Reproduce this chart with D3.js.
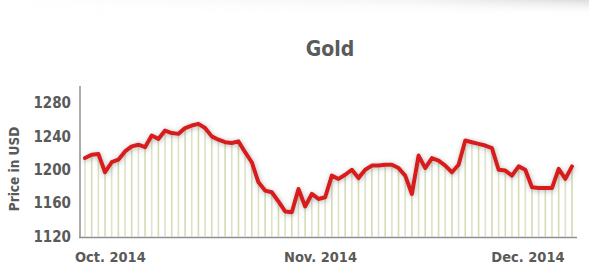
<!DOCTYPE html>
<html><head><meta charset="utf-8">
<script src="https://cdn.jsdelivr.net/npm/d3@7"></script>
<style>
html,body{margin:0;padding:0;background:#fff;}
svg{display:block;}
text{font-family:"DejaVu Sans Condensed","DejaVu Sans",sans-serif;font-weight:bold;fill:#5a5a5a;}
</style></head>
<body>
<script>
// Data
const title = "Gold";
const yLabel = "Price in USD";
const yTicks = [1120, 1160, 1200, 1240, 1280];
const monthLabels = ["Oct. 2014", "Nov. 2014", "Dec. 2014"];
const monthLabelIdx = [3.8, 35.3, 66.4];
const prices = [
  1214, 1218, 1219, 1197, 1209, 1212, 1222, 1228, 1230, 1227,
  1241, 1237, 1247, 1244, 1243, 1250, 1253, 1255, 1250, 1240,
  1236, 1233, 1232, 1234, 1221, 1209, 1185, 1175, 1173, 1162,
  1150, 1149, 1177, 1156, 1171, 1165, 1167, 1193, 1189, 1194,
  1200, 1190, 1200, 1205, 1205, 1206, 1206, 1202, 1193, 1171,
  1217, 1202, 1214, 1211, 1205, 1197, 1206, 1235, 1233, 1231,
  1229, 1226, 1200, 1199, 1193, 1204, 1200, 1179, 1178, 1178,
  1178, 1201, 1189, 1204
];

const W = 589, H = 272;
const svg = d3.select("body").append("svg").attr("width", W).attr("height", H);
const defs = svg.append("defs");

// subtle page shadow at top
const g1 = defs.append("linearGradient").attr("id","topShade").attr("x1",0).attr("y1",0).attr("x2",0).attr("y2",1);
g1.append("stop").attr("offset","0%").attr("stop-color","#d8d8d8").attr("stop-opacity",0.9);
g1.append("stop").attr("offset","100%").attr("stop-color","#ffffff").attr("stop-opacity",0);
const g2 = defs.append("linearGradient").attr("id","topMask").attr("x1",0).attr("y1",0).attr("x2",1).attr("y2",0);
g2.append("stop").attr("offset","0%").attr("stop-color","#fff").attr("stop-opacity",0);
g2.append("stop").attr("offset","70%").attr("stop-color","#fff").attr("stop-opacity",0.3);
g2.append("stop").attr("offset","100%").attr("stop-color","#fff").attr("stop-opacity",1);
const mask = defs.append("mask").attr("id","tm");
mask.append("rect").attr("x",0).attr("y",0).attr("width",W).attr("height",20).attr("fill","url(#topMask)");
svg.append("rect").attr("x",0).attr("y",0).attr("width",W).attr("height",16)
  .attr("fill","url(#topShade)").attr("mask","url(#tm)");

const f = defs.append("filter").attr("id","glow").attr("x","-10%").attr("y","-30%").attr("width","120%").attr("height","160%");
f.append("feDropShadow").attr("dx",0.5).attr("dy",1).attr("stdDeviation",2.4)
  .attr("flood-color","#666").attr("flood-opacity",0.5);

const x = d3.scaleLinear().domain([0, prices.length - 1]).range([85, 572]);
const y = d3.scaleLinear().domain([1120, 1280]).range([236.5, 103]);
const baseY = y(1120);

// vertical drop lines
svg.append("g").selectAll("line").data(prices).join("line")
  .attr("x1", (d,i) => x(i)).attr("x2", (d,i) => x(i))
  .attr("y1", d => y(d)).attr("y2", baseY)
  .attr("stroke", (d,i) => i % 2 ? "#d4dcb4" : "#dde2c8")
  .attr("stroke-width", 1.6);

// axes lines
svg.append("line").attr("x1",80).attr("x2",80).attr("y1",86).attr("y2",baseY+1)
  .attr("stroke","#8f8f8f").attr("stroke-width",1.5);
svg.append("line").attr("x1",79).attr("x2",577).attr("y1",baseY+1).attr("y2",baseY+1)
  .attr("stroke","#8f8f8f").attr("stroke-width",1.5);

// y tick labels
const yAxis = d3.axisLeft(y).tickValues(yTicks).tickFormat(d3.format("d")).tickSize(0).tickPadding(0);
const ya = svg.append("g").attr("transform","translate(71,0)").call(yAxis);
ya.select(".domain").remove();
ya.selectAll("text").attr("font-size",15).attr("fill","#5a5a5a")
  .style("font-family",'"DejaVu Sans Condensed","DejaVu Sans",sans-serif').style("font-weight","bold");

// x month labels
svg.append("g").selectAll("text").data(monthLabels).join("text")
  .attr("x", (d,i) => x(monthLabelIdx[i])).attr("y", 262)
  .attr("text-anchor","middle").attr("font-size",14.5).text(d => d);

// line
svg.append("path").datum(prices)
  .attr("d", d3.line().x((d,i) => x(i)).y(d => y(d)))
  .attr("fill","none").attr("stroke","#d81e1e").attr("stroke-width",4)
  .attr("stroke-linejoin","round").attr("stroke-linecap","round")
  .attr("filter","url(#glow)");

// title
svg.append("text").attr("x",330).attr("y",56).attr("text-anchor","middle")
  .attr("font-size",21).text(title);

// y label
svg.append("text").attr("transform","translate(19,169) rotate(-90)")
  .attr("text-anchor","middle").attr("font-size",13.5).text(yLabel);
</script>
</body></html>
